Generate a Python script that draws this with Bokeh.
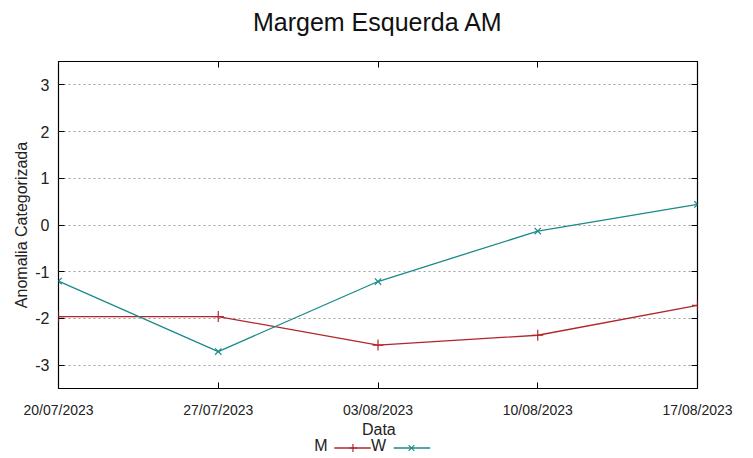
from datetime import datetime
from bokeh.plotting import figure
from bokeh.layouts import column
from bokeh.models import (ColumnDataSource, FixedTicker, DatetimeTickFormatter,
                          LinearAxis, DatetimeAxis, Range1d, CustomJSTickFormatter)
from bokeh.core.properties import value
from bokeh.embed import file_html
from bokeh.resources import INLINE

# ---- data ----
dates = ["20/07/2023", "27/07/2023", "03/08/2023", "10/08/2023", "17/08/2023"]
m_values = [-1.96, -1.96, -2.57, -2.36, -1.72]
w_values = [-1.20, -2.71, -1.21, -0.13, 0.44]
y_ticks = [-3, -2, -1, 0, 1, 2, 3]
y_tick_labels = ["-3", "-2", "-1", "0", "1", "2", "3"]
series_names = ["M", "W"]
title_text = "Margem Esquerda AM"
x_label = "Data"
y_label = "Anomalia Categorizada"

FONT = "Liberation Sans"
RED = "#b0262c"
TEAL = "#1a8a8a"
TXT = "#222222"
W = 753

dts = [datetime.strptime(d, "%d/%m/%Y") for d in dates]
epoch = datetime(1970, 1, 1)
tick_ms = [(d - epoch).total_seconds() * 1000.0 for d in dts]

src = ColumnDataSource(dict(x=dts, m=m_values, w=w_values))


def strip(h):
    f = figure(width=W, height=h, output_backend="svg", toolbar_location=None,
               x_range=Range1d(0, W), y_range=Range1d(h, 0),
               x_axis_location=None, y_axis_location=None,
               min_border_left=0, min_border_right=0, min_border_top=0, min_border_bottom=0)
    f.outline_line_color = None
    f.grid.visible = False
    f.background_fill_color = "white"
    f.border_fill_color = "white"
    return f


# ---- title strip ----
top = strip(42)
top.text(x=[W / 2], y=[21], text=[title_text], text_align="center", text_baseline="middle",
         text_font=value(FONT), text_font_size="25px", text_color="#111111")

# ---- main plot ----
p = figure(width=W, height=378, x_axis_type="datetime",
           output_backend="svg", toolbar_location=None,
           x_range=Range1d(dts[0], dts[-1]), y_range=Range1d(-3.5, 3.5),
           min_border_left=58, min_border_right=56,
           min_border_top=19, min_border_bottom=32)
p.background_fill_color = "white"
p.border_fill_color = "white"
p.outline_line_color = "black"
p.outline_line_width = 1.2

fmt = DatetimeTickFormatter(days="%d/%m/%Y", months="%d/%m/%Y", years="%d/%m/%Y",
                            hours="%d/%m/%Y", milliseconds="%d/%m/%Y", seconds="%d/%m/%Y",
                            minsec="%d/%m/%Y", minutes="%d/%m/%Y", hourmin="%d/%m/%Y")
blank = CustomJSTickFormatter(code="return ''")

xa = p.xaxis[0]
xa.ticker = FixedTicker(ticks=tick_ms)
xa.formatter = fmt
xa.axis_line_color = None
xa.major_tick_in = 6
xa.major_tick_out = 0
xa.minor_tick_line_color = None
xa.major_label_standoff = 13
xa.major_label_text_font = FONT
xa.major_label_text_font_size = "14px"
xa.major_label_text_color = TXT

ya = p.yaxis[0]
ya.ticker = FixedTicker(ticks=y_ticks)
ya.major_label_overrides = {t: s for t, s in zip(y_ticks, y_tick_labels)}
ya.axis_line_color = None
ya.major_tick_in = 6
ya.major_tick_out = 0
ya.minor_tick_line_color = None
ya.major_label_standoff = 9
ya.major_label_text_font = FONT
ya.major_label_text_font_size = "16px"
ya.major_label_text_color = TXT
ya.axis_label = y_label
ya.axis_label_text_font = FONT
ya.axis_label_text_font_size = "16px"
ya.axis_label_text_font_style = "normal"
ya.axis_label_text_color = TXT
ya.axis_label_standoff = 2

# mirror ticks (gnuplot style)
ra = LinearAxis(ticker=FixedTicker(ticks=y_ticks), formatter=blank,
                major_tick_in=6, major_tick_out=0, axis_line_color=None,
                minor_tick_line_color=None, major_label_standoff=0)
p.add_layout(ra, "right")
ta = DatetimeAxis(ticker=FixedTicker(ticks=tick_ms), formatter=blank,
                  major_tick_in=6, major_tick_out=0, axis_line_color=None,
                  minor_tick_line_color=None, major_label_standoff=0)
p.add_layout(ta, "above")

p.xgrid.visible = False
p.ygrid.ticker = FixedTicker(ticks=y_ticks)
p.ygrid.grid_line_color = "#a0a0a0"
p.ygrid.grid_line_dash = "2 3"
p.ygrid.grid_line_width = 1

p.line("x", "m", source=src, line_color=RED, line_width=1.3)
p.scatter("x", "m", source=src, marker="cross", size=11, line_color=RED, line_width=1.2)
p.line("x", "w", source=src, line_color=TEAL, line_width=1.3)
p.scatter("x", "w", source=src, marker="x", size=9, line_color=TEAL, line_width=1.2)

# ---- bottom strip: x-axis title and gnuplot-style key ----
bot = strip(38)
bot.text(x=[377.5], y=[9], text=[x_label], text_align="center", text_baseline="middle",
         text_font=value(FONT), text_font_size="16px", text_color=TXT)

legend_text_x = [317, 386]
legend_line_x0 = [325, 395]
legend_line_x1 = [368, 438]
legend_marker_x = [347, 416]
legend_colors = [RED, TEAL]
legend_markers = ["cross", "x"]

bot.text(x=legend_text_x, y=[25, 25], text=series_names, text_align="right",
         text_baseline="middle", text_font=value(FONT), text_font_size="16px",
         text_color=TXT)
bot.segment(x0=legend_line_x0, y0=[27.5, 27.5], x1=legend_line_x1, y1=[27.5, 27.5],
            line_color=legend_colors, line_width=1.3)
bot.scatter(x=legend_marker_x, y=[27.5, 27.5], marker=legend_markers, size=[8, 8],
            line_color=legend_colors, line_width=1.2)

layout = column(top, p, bot, spacing=0)
open("out.html", "w").write(file_html(layout, INLINE))
